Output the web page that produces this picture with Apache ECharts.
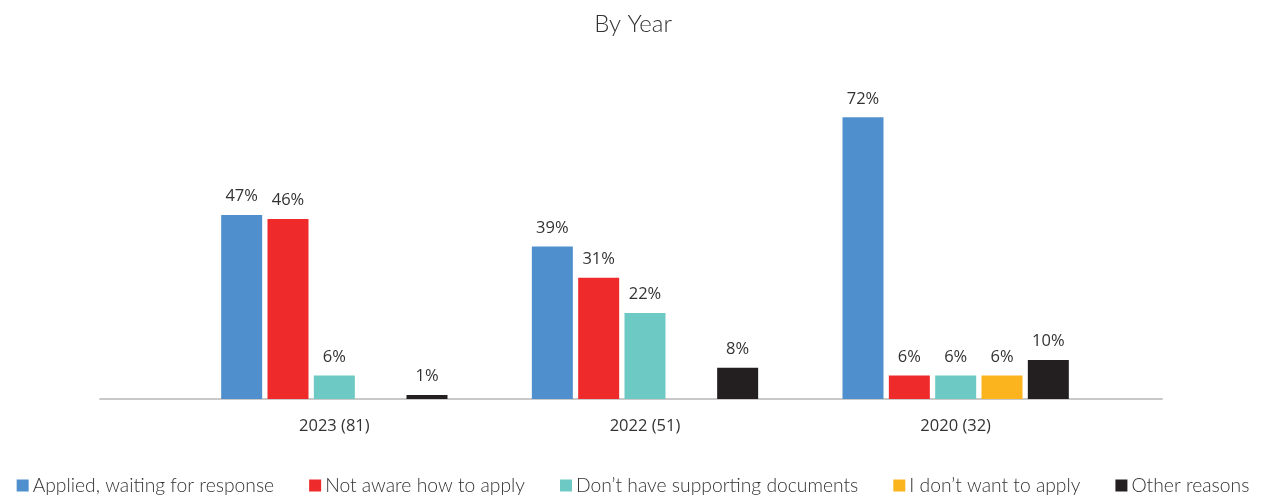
<!DOCTYPE html>
<html>
<head>
<meta charset="utf-8">
<script src="https://cdn.jsdelivr.net/npm/echarts@6/dist/echarts.min.js"></script>
<style>
  html, body { margin: 0; padding: 0; background: #fff; }
  #chart { width: 1266px; height: 497px; }
</style>
</head>
<body>
<div id="chart"></div>
<script>
// Survey years (sample size in brackets)
const categories = ['2023 (81)', '2022 (51)', '2020 (32)'];

// Share of respondents per reason, in percent (null = not reported that year)
const appliedWaiting = [47, 39, 72];
const notAware = [46, 31, 6];
const noDocuments = [6, 22, 6];
const dontWant = [null, null, 6];
const otherReasons = [1, 8, 10];

const seriesNames = [
  'Applied, waiting for response',
  'Not aware how to apply',
  "Don\u2019t have supporting documents",
  'I don\u2019t want to apply',
  'Other reasons'
];
const seriesValues = [appliedWaiting, notAware, noDocuments, dontWant, otherReasons];
const seriesColors = ['#4F8FCD', '#EE2A2B', '#6DC9C3', '#FBB41D', '#231F20'];

const chart = echarts.init(document.getElementById('chart'));

const series = seriesNames.map((name, i) => ({
  name: name,
  type: 'bar',
  xAxisIndex: 0,
  yAxisIndex: 0,
  data: seriesValues[i],
  barWidth: 41,
  barGap: '13%',
  itemStyle: { color: seriesColors[i] },
  label: {
    show: true,
    position: 'top',
    distance: 10,
    formatter: p => (p.value == null ? '' : p.value + '%'),
    color: '#333',
    fontFamily: 'Open Sans',
    fontSize: 16.5
  }
}));

chart.setOption({
  animation: false,
  title: {
    text: 'By Year',
    left: 'center',
    top: 7,
    textStyle: { fontFamily: 'Lato', fontWeight: 300, fontSize: 24, color: '#333' }
  },
  legend: {
    data: seriesNames,
    bottom: -3,
    left: 'center',
    icon: 'rect',
    itemWidth: 12,
    itemHeight: 12,
    itemGap: 35,
    textStyle: { fontFamily: 'Lato', fontWeight: 300, fontSize: 19.3, color: '#333', padding: [0, 0, 0, -1] }
  },
  grid: [
    { left: 179, right: 155, top: 86, bottom: 98 },
    { left: 100, right: 104, top: 86, bottom: 98 }
  ],
  xAxis: [
    {
      type: 'category',
      gridIndex: 0,
      data: categories,
      axisLine: { show: false },
      axisTick: { show: false },
      axisLabel: { color: '#333', fontFamily: 'Open Sans', fontSize: 16.5, margin: 19 }
    },
    {
      type: 'value',
      gridIndex: 1,
      min: 0,
      max: 1,
      axisLine: { show: true, onZero: false, lineStyle: { color: '#c9c9c9', width: 2 } },
      axisTick: { show: false },
      axisLabel: { show: false },
      splitLine: { show: false }
    }
  ],
  yAxis: [
    { type: 'value', gridIndex: 0, min: 0, max: 80, show: false, splitLine: { show: false } },
    { type: 'value', gridIndex: 1, min: 0, max: 80, show: false, splitLine: { show: false } }
  ],
  series: series
});
</script>
</body>
</html>
